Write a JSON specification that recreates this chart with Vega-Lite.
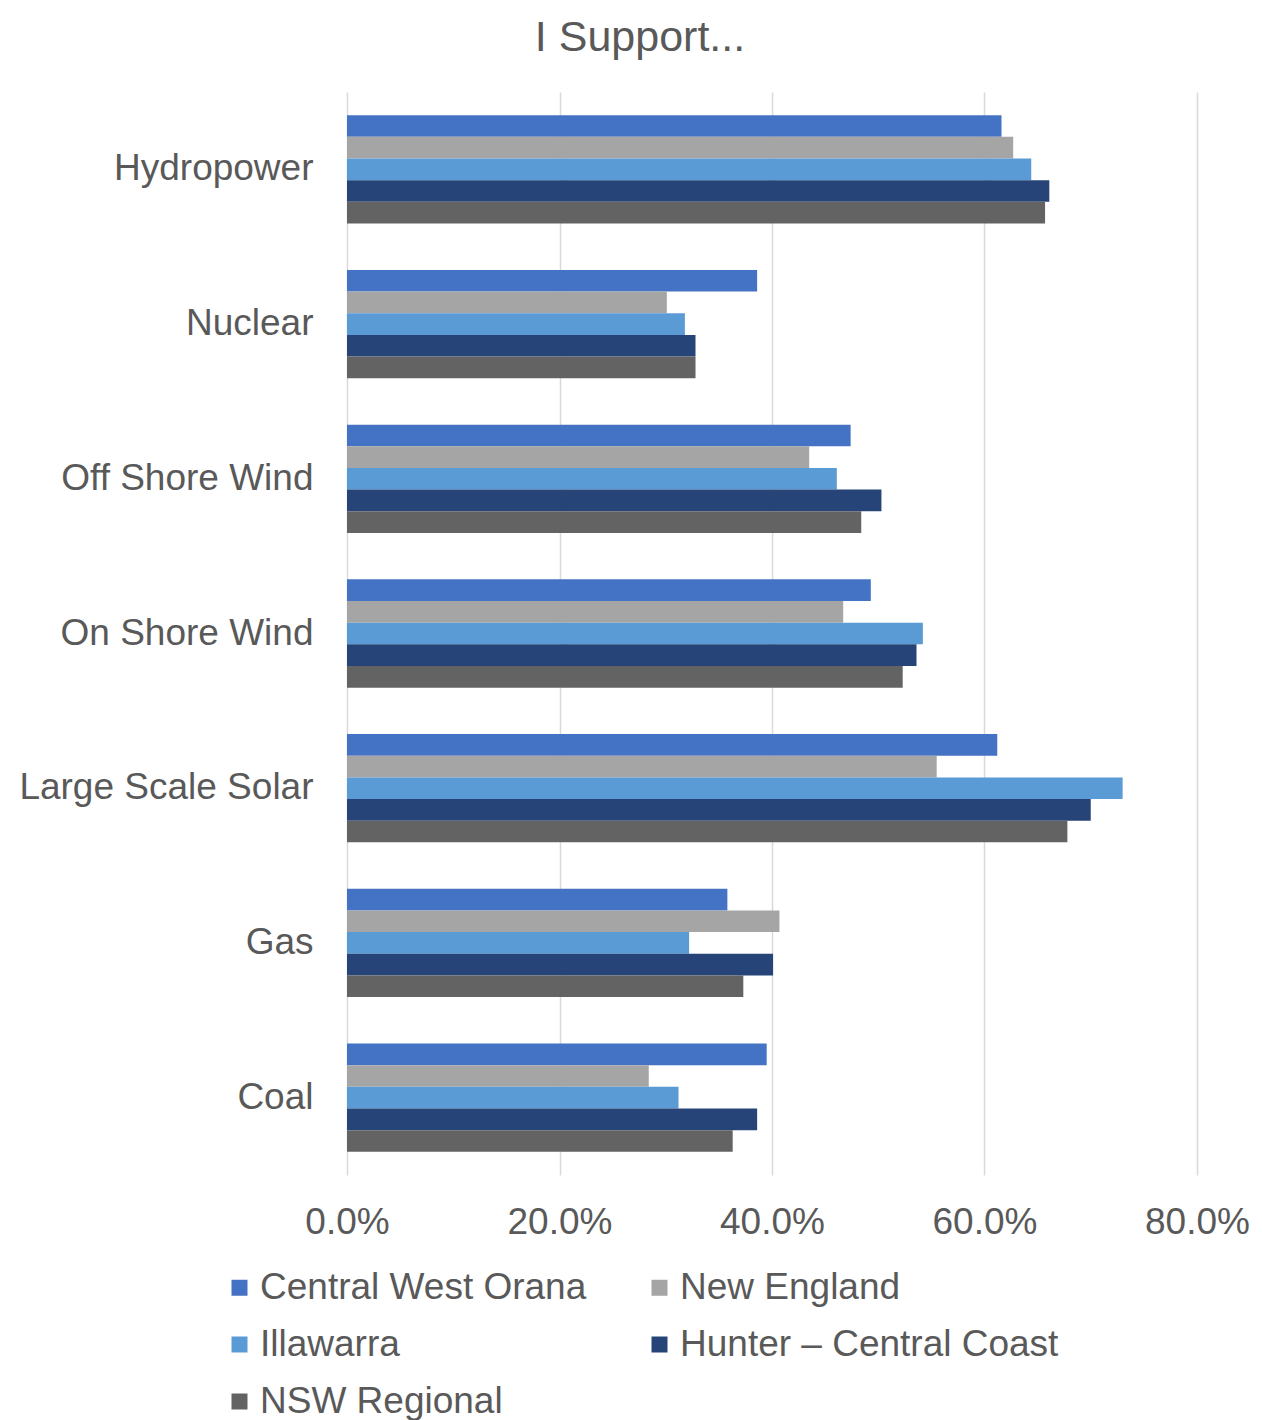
{
  "$schema": "https://vega.github.io/schema/vega-lite/v6.json",
  "width": 850,
  "height": 1083,
  "autosize": {"type": "none"},
  "padding": {"left": 347, "top": 92, "right": 65, "bottom": 245},
  "background": "white",
  "title": {
    "text": "I Support...",
    "font": "Liberation Sans",
    "fontSize": 43,
    "fontWeight": "normal",
    "color": "#595959",
    "anchor": "middle",
    "dx": -132,
    "baseline": "alphabetic",
    "offset": -2
  },
  "config": {
    "view": {"stroke": null},
    "font": "Liberation Sans"
  },
  "data": {
    "values": [
      {"source": "Hydropower", "region": "Central West Orana", "value": 0.616},
      {"source": "Hydropower", "region": "New England", "value": 0.627},
      {"source": "Hydropower", "region": "Illawarra", "value": 0.644},
      {"source": "Hydropower", "region": "Hunter – Central Coast", "value": 0.661},
      {"source": "Hydropower", "region": "NSW Regional", "value": 0.657},
      {"source": "Nuclear", "region": "Central West Orana", "value": 0.386},
      {"source": "Nuclear", "region": "New England", "value": 0.301},
      {"source": "Nuclear", "region": "Illawarra", "value": 0.318},
      {"source": "Nuclear", "region": "Hunter – Central Coast", "value": 0.328},
      {"source": "Nuclear", "region": "NSW Regional", "value": 0.328},
      {"source": "Off Shore Wind", "region": "Central West Orana", "value": 0.474},
      {"source": "Off Shore Wind", "region": "New England", "value": 0.435},
      {"source": "Off Shore Wind", "region": "Illawarra", "value": 0.461},
      {"source": "Off Shore Wind", "region": "Hunter – Central Coast", "value": 0.503},
      {"source": "Off Shore Wind", "region": "NSW Regional", "value": 0.484},
      {"source": "On Shore Wind", "region": "Central West Orana", "value": 0.493},
      {"source": "On Shore Wind", "region": "New England", "value": 0.467},
      {"source": "On Shore Wind", "region": "Illawarra", "value": 0.542},
      {"source": "On Shore Wind", "region": "Hunter – Central Coast", "value": 0.536},
      {"source": "On Shore Wind", "region": "NSW Regional", "value": 0.523},
      {"source": "Large Scale Solar", "region": "Central West Orana", "value": 0.612},
      {"source": "Large Scale Solar", "region": "New England", "value": 0.555},
      {"source": "Large Scale Solar", "region": "Illawarra", "value": 0.730},
      {"source": "Large Scale Solar", "region": "Hunter – Central Coast", "value": 0.700},
      {"source": "Large Scale Solar", "region": "NSW Regional", "value": 0.678},
      {"source": "Gas", "region": "Central West Orana", "value": 0.358},
      {"source": "Gas", "region": "New England", "value": 0.407},
      {"source": "Gas", "region": "Illawarra", "value": 0.322},
      {"source": "Gas", "region": "Hunter – Central Coast", "value": 0.401},
      {"source": "Gas", "region": "NSW Regional", "value": 0.373},
      {"source": "Coal", "region": "Central West Orana", "value": 0.395},
      {"source": "Coal", "region": "New England", "value": 0.284},
      {"source": "Coal", "region": "Illawarra", "value": 0.312},
      {"source": "Coal", "region": "Hunter – Central Coast", "value": 0.386},
      {"source": "Coal", "region": "NSW Regional", "value": 0.363}
    ]
  },
  "mark": {"type": "bar"},
  "encoding": {
    "y": {
      "field": "source",
      "type": "nominal",
      "sort": ["Hydropower", "Nuclear", "Off Shore Wind", "On Shore Wind", "Large Scale Solar", "Gas", "Coal"],
      "scale": {"paddingInner": 0.3, "paddingOuter": 0.15},
      "axis": {
        "title": null,
        "domain": false,
        "ticks": false,
        "labelFont": "Liberation Sans",
        "labelFontSize": 37,
        "labelColor": "#595959",
        "labelPadding": 34,
        "labelLimit": 400
      }
    },
    "yOffset": {
      "field": "region",
      "type": "nominal",
      "sort": ["Central West Orana", "New England", "Illawarra", "Hunter – Central Coast", "NSW Regional"],
      "scale": {"paddingInner": 0, "paddingOuter": 0}
    },
    "x": {
      "field": "value",
      "type": "quantitative",
      "scale": {"domain": [0, 0.8], "nice": false},
      "axis": {
        "title": null,
        "format": ".1%",
        "values": [0, 0.2, 0.4, 0.6, 0.8],
        "domain": false,
        "ticks": false,
        "grid": true,
        "gridColor": "#D9D9D9",
        "gridWidth": 1.5,
        "labelFont": "Liberation Sans",
        "labelFontSize": 37,
        "labelColor": "#595959",
        "labelPadding": 29,
        "labelFlush": false
      }
    },
    "color": {
      "field": "region",
      "type": "nominal",
      "sort": ["Central West Orana", "New England", "Illawarra", "Hunter – Central Coast", "NSW Regional"],
      "scale": {
        "domain": ["Central West Orana", "New England", "Illawarra", "Hunter – Central Coast", "NSW Regional"],
        "range": ["#4472C4", "#A5A5A5", "#5B9BD5", "#264478", "#636363"]
      },
      "legend": {
        "title": null,
        "orient": "none",
        "legendX": -126,
        "legendY": 1177,
        "direction": "horizontal",
        "columns": 2,
        "symbolType": "square",
        "symbolSize": 256,
        "symbolStrokeWidth": 0,
        "labelFont": "Liberation Sans",
        "labelFontSize": 37,
        "labelColor": "#595959",
        "labelOffset": 2,
        "labelLimit": 500,
        "columnPadding": 54,
        "rowPadding": 19
      }
    }
  }
}
